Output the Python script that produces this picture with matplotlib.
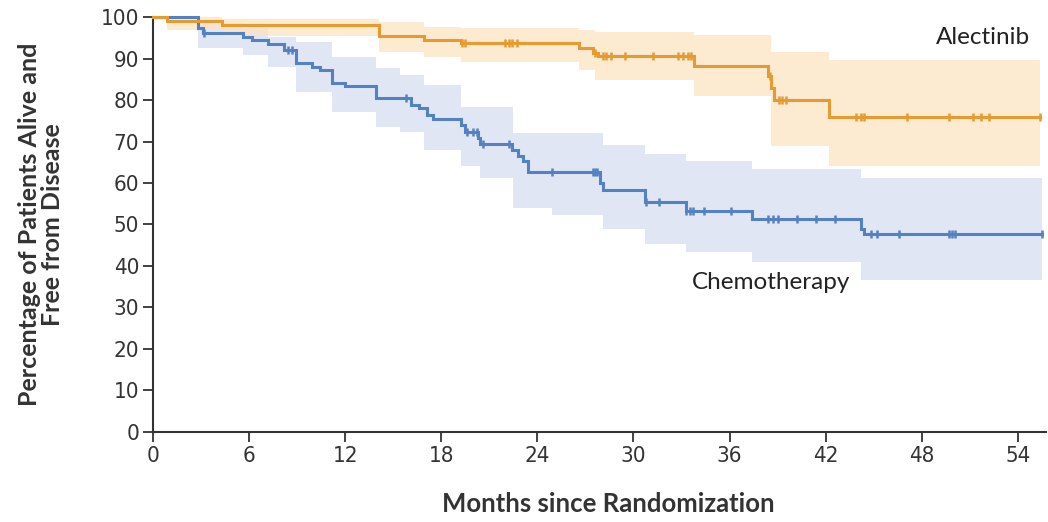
import os
import numpy as np
import matplotlib
matplotlib.use("Agg")
import matplotlib.pyplot as plt
from matplotlib import font_manager as fm

# ---------------- data ----------------
alec_t = [0, 0.9, 4.3, 14.1, 16.9, 19.2, 26.6, 27.5, 27.8, 33.8, 38.4, 38.6, 38.8, 42.2]
alec_s = [100, 99.0, 98.1, 95.5, 94.6, 93.7, 92.5, 91.3, 90.6, 88.2, 85.7, 82.9, 80.1, 75.9]
alec_end = 55.4
alec_cens = [19.3, 19.5, 22.0, 22.2, 22.4, 22.7, 27.6, 28.1, 28.3, 28.6, 29.5, 31.2,
             32.8, 33.1, 33.4, 33.6, 38.5, 39.1, 39.3, 39.5, 43.9, 44.2, 44.4, 47.1,
             49.7, 51.2, 51.7, 52.2, 55.4]
alec_band_t = [0.9, 4.3, 14.1, 16.9, 19.2, 26.6, 27.6, 33.8, 38.6, 42.2]
alec_band_hi = [100, 99.5, 98.9, 97.7, 97.3, 96.9, 96.5, 95.7, 91.7, 89.7]
alec_band_lo = [97.0, 95.5, 91.7, 90.5, 89.3, 87.3, 84.9, 80.9, 68.9, 64.1]

chemo_t = [0, 2.8, 3.1, 5.6, 6.2, 7.2, 8.2, 8.9, 9.9, 10.4, 11.2, 12.0, 13.9, 16.1,
           16.6, 17.1, 17.5, 19.2, 19.5, 20.3, 20.4, 22.4, 22.8, 23.1, 23.4, 27.9,
           28.1, 30.7, 33.3, 37.4, 44.2, 44.4]
chemo_s = [100, 97.5, 96.1, 95.3, 94.5, 93.5, 92.1, 88.9, 88.1, 87.3, 84.1, 83.3, 80.4,
           78.8, 78.0, 76.4, 75.5, 74.0, 72.4, 70.8, 69.4, 68.0, 66.4, 65.2, 62.6,
           60.0, 58.2, 55.3, 53.3, 51.2, 48.9, 47.7]
chemo_end = 55.5
chemo_cens = [3.2, 8.4, 8.7, 15.8, 19.6, 20.0, 20.2, 20.6, 22.2, 24.9, 27.5, 27.6, 27.7,
              30.8, 31.6, 33.3, 33.5, 33.7, 34.4, 36.1, 38.4, 38.7, 39.0, 40.2, 41.4,
              42.6, 44.8, 45.2, 46.6, 49.7, 49.9, 50.1, 55.5]
chemo_band_t = [2.8, 5.6, 7.2, 8.9, 11.2, 13.9, 15.4, 16.9, 19.2, 20.4, 22.5, 24.9,
                28.1, 30.7, 33.3, 37.4, 44.2]
chemo_band_hi = [98.5, 97.3, 95.3, 94.1, 90.5, 87.7, 86.1, 83.7, 78.4, 78.4, 72.0, 72.0,
                 69.2, 66.9, 65.3, 63.3, 61.3]
chemo_band_lo = [92.5, 90.9, 88.1, 82.0, 77.2, 73.6, 72.4, 68.0, 64.0, 61.1, 54.0, 52.4,
                 48.8, 45.3, 43.3, 40.9, 36.6]

x_ticks = [0, 6, 12, 18, 24, 30, 36, 42, 48, 54]
y_ticks = [0, 10, 20, 30, 40, 50, 60, 70, 80, 90, 100]

# ---------------- style ----------------
ORANGE = "#E69B30"
ORANGE_BAND = "#FBE3C2"
BLUE = "#5381C1"
BLUE_BAND = "#D6DEF1"
AXIS = "#333333"

cond = [f for f in fm.fontManager.ttflist
        if os.path.basename(str(f.fname)) == "DejaVuSansCondensed.ttf"]
if cond:
    tick_fp = fm.FontProperties(fname=cond[0].fname, size=16)
else:
    tick_fp = fm.FontProperties(family=["DejaVu Sans"], size=15)
label_font = ["Lato", "DejaVu Sans"]

fig = plt.figure(figsize=(10.48, 5.22), dpi=100)
ax = fig.add_axes([0.146, 0.173, 0.852, 0.794])


def step_series(t, s, end):
    tt = list(t) + [end]
    ss = list(s) + [s[-1]]
    return tt, ss


def value_at(t, s, x):
    idx = np.searchsorted(np.asarray(t), np.asarray(x), side="right") - 1
    return np.asarray(s)[idx]


def draw_group(t, s, end, cens, bt, bhi, blo, col, bandcol, zb):
    bt2 = list(bt) + [end]
    bhi2 = list(bhi) + [bhi[-1]]
    blo2 = list(blo) + [blo[-1]]
    ax.fill_between(bt2, blo2, bhi2, step="post", color=bandcol, alpha=0.75,
                    linewidth=0, zorder=zb)
    tt, ss = step_series(t, s, end)
    ax.step(tt, ss, where="post", color=col, lw=2.2, zorder=zb + 3,
            solid_joinstyle="miter", clip_on=False)
    cv = value_at(t, s, cens)
    ax.plot(cens, cv, linestyle="none", marker="|", markersize=6,
            markeredgewidth=1.8, color=col, zorder=zb + 4, clip_on=False)


draw_group(chemo_t, chemo_s, chemo_end, chemo_cens, chemo_band_t, chemo_band_hi,
           chemo_band_lo, BLUE, BLUE_BAND, 1)
draw_group(alec_t, alec_s, alec_end, alec_cens, alec_band_t, alec_band_hi,
           alec_band_lo, ORANGE, ORANGE_BAND, 1)

ax.set_xlim(0, 55.75)
ax.set_ylim(0, 100)
ax.set_xticks(x_ticks)
ax.set_yticks(y_ticks)
ax.set_xticklabels([str(v) for v in x_ticks], fontproperties=tick_fp, color=AXIS)
ax.set_yticklabels([str(v) for v in y_ticks], fontproperties=tick_fp, color=AXIS)

for side in ["top", "right"]:
    ax.spines[side].set_visible(False)
for side in ["left", "bottom"]:
    ax.spines[side].set_color(AXIS)
    ax.spines[side].set_linewidth(1.5)
ax.tick_params(axis="both", direction="out", length=7, width=1.3, color=AXIS,
               pad=3)

ax.set_xlabel("Months since Randomization", family=label_font, fontweight="bold",
              fontsize=18.5, color=AXIS)
ax.xaxis.set_label_coords(0.51, -0.145)
ax.set_ylabel("Percentage of Patients Alive and\nFree from Disease",
              family=label_font, fontweight="bold", fontsize=18, color=AXIS,
              linespacing=1.0)
ax.yaxis.set_label_coords(-0.1, 0.5)

ax.text(51.8, 95.2, "Alectinib", family=label_font, fontsize=17.5, color="#222222",
        ha="center", va="center", zorder=10)
ax.text(38.6, 36.0, "Chemotherapy", family=label_font, fontsize=17.5, color="#222222",
        ha="center", va="center", zorder=10,
        bbox=dict(facecolor="white", edgecolor="none", pad=2))

fig.savefig("out.png", dpi=100)
